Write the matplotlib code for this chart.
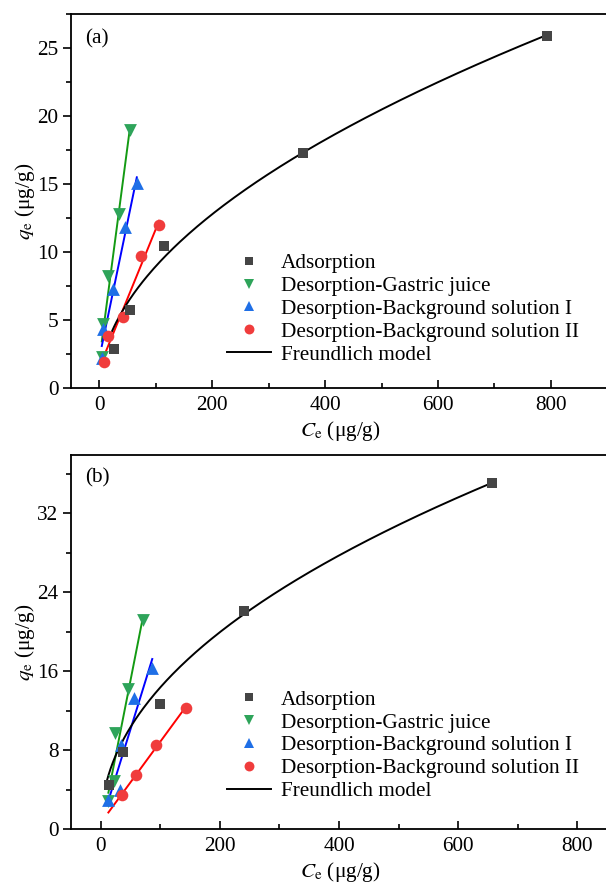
"""Adsorption / desorption isotherms, panels (a) and (b)."""
import numpy as np
import matplotlib
matplotlib.use("Agg")
import matplotlib.pyplot as plt
from matplotlib.lines import Line2D
from matplotlib.ticker import MultipleLocator

plt.rcParams["font.family"] = ["Liberation Serif", "DejaVu Serif"]
plt.rcParams["mathtext.fontset"] = "stix"

# ---- panel (a) data
ads_a_x = [27, 54, 115, 361, 793]
ads_a_y = [2.9, 5.7, 10.45, 17.3, 25.85]
gas_a_x = [4.7, 7.7, 16.5, 34.3, 55]
gas_a_y = [2.25, 4.7, 8.25, 12.8, 18.95]
bg1_a_x = [4.7, 7.5, 25.4, 46, 66.7]
bg1_a_y = [2.2, 4.35, 7.3, 11.85, 15.1]
bg2_a_x = [8.9, 16.5, 42, 73.8, 106.3]
bg2_a_y = [1.9, 3.8, 5.2, 9.7, 11.95]
freund_a = (0.834, 0.515)   # K, n

# ---- panel (b) data
ads_b_x = [14, 38, 99, 240, 657]
ads_b_y = [4.45, 7.85, 12.65, 22.1, 35.1]
gas_b_x = [13, 22.3, 24, 46.3, 71.3]
gas_b_y = [2.85, 4.9, 9.7, 14.2, 21.2]
bg1_b_x = [12.9, 32.3, 34, 56, 86.5]
bg1_b_y = [2.9, 4.0, 8.5, 13.3, 16.3]
bg2_b_x = [36.3, 58.6, 93.2, 143.4]
bg2_b_y = [3.45, 5.5, 8.5, 12.3]
freund_b = (1.61, 0.475)

labels = ["Adsorption", "Desorption-Gastric juice",
          "Desorption-Background solution I",
          "Desorption-Background solution II", "Freundlich model"]

# marker colour, line colour, marker, size
STYLE = {
    "ads": ("#454545", "black", "s", 42),
    "gas": ("#2ea45a", "#139a13", "v", 85),
    "bg1": ("#1f6fe6", "#0000ff", "^", 85),
    "bg2": ("#f03c3c", "#ff0000", "o", 70),
}

FS = 15.3


def panel(ax, ads, gas, bg1, bg2, freund, xlim, ylim, ymaj, tag, leg_y):
    x_start = min(min(gas[0]), min(bg1[0]), min(bg2[0]))
    for key, (xs, ys) in (("gas", gas), ("bg1", bg1), ("bg2", bg2)):
        mc, lc, mk, sz = STYLE[key]
        k, b = np.polyfit(xs, ys, 1)
        xx = np.array([x_start, max(xs)])
        ax.plot(xx, k * xx + b, color=lc, lw=1.4, zorder=2)
        ax.scatter(xs, ys, marker=mk, s=sz, color=mc, lw=0, zorder=3)
    K, n = freund
    xc = np.linspace(min(ads[0]) - 4, max(ads[0]), 200)
    ax.plot(xc, K * xc ** n, color="black", lw=1.4, zorder=2)
    mc, lc, mk, sz = STYLE["ads"]
    ax.scatter(ads[0], ads[1], marker=mk, s=sz, color=mc, lw=0, zorder=3)

    ax.set_xlim(*xlim)
    ax.set_ylim(*ylim)
    ax.xaxis.set_major_locator(MultipleLocator(200))
    ax.xaxis.set_minor_locator(MultipleLocator(100))
    ax.yaxis.set_major_locator(MultipleLocator(ymaj))
    ax.yaxis.set_minor_locator(MultipleLocator(ymaj / 2))
    ax.tick_params(axis="x", which="both", direction="in", top=False,
                   labelsize=FS, pad=6, width=1.2)
    ax.tick_params(axis="x", which="major", length=6)
    ax.tick_params(axis="x", which="minor", length=3.5)
    ax.tick_params(axis="y", which="both", direction="out", right=False,
                   labelsize=FS, pad=3, width=1.2)
    ax.tick_params(axis="y", which="major", length=6)
    ax.tick_params(axis="y", which="minor", length=3.5)
    for sp in ax.spines.values():
        sp.set_linewidth(1.3)
    ax.set_xlabel(r"$C_{\mathrm{e}}$ (μg/g)", fontsize=FS, labelpad=3)
    ax.set_ylabel(r"$q_{\mathrm{e}}$ (μg/g)", fontsize=FS, labelpad=0)
    ax.text(0.026, leg_y[1], tag, transform=ax.transAxes, fontsize=FS,
            ha="left", va="center")

    handles = []
    for key in ("ads", "gas", "bg1", "bg2"):
        mc, lc, mk, sz = STYLE[key]
        handles.append(Line2D([], [], ls="none", marker=mk, color=mc,
                              markersize=np.sqrt(sz) * 0.85, mew=0))
    handles.append(Line2D([], [], color="black", lw=1.4))
    ax.legend(handles, labels, loc="upper left",
              bbox_to_anchor=(0.289, leg_y[0]), frameon=False,
              fontsize=FS, borderpad=0, borderaxespad=0,
              handlelength=2.1, handletextpad=0.45, labelspacing=0.14)


fig = plt.figure(figsize=(6.06, 8.85), dpi=100)
ax_a = fig.add_axes([0.117, 0.5616, 0.89, 0.4226])
ax_b = fig.add_axes([0.117, 0.0633, 0.89, 0.4226])

panel(ax_a, (ads_a_x, ads_a_y), (gas_a_x, gas_a_y), (bg1_a_x, bg1_a_y),
      (bg2_a_x, bg2_a_y), freund_a, (-50, 905), (0, 27.5), 5, "(a)",
      (0.36, 0.934))
panel(ax_b, (ads_b_x, ads_b_y), (gas_b_x, gas_b_y), (bg1_b_x, bg1_b_y),
      (bg2_b_x, bg2_b_y), freund_b, (-50, 855), (0, 37.9), 8, "(b)",
      (0.372, 0.939))

fig.savefig("out.png", dpi=100)
